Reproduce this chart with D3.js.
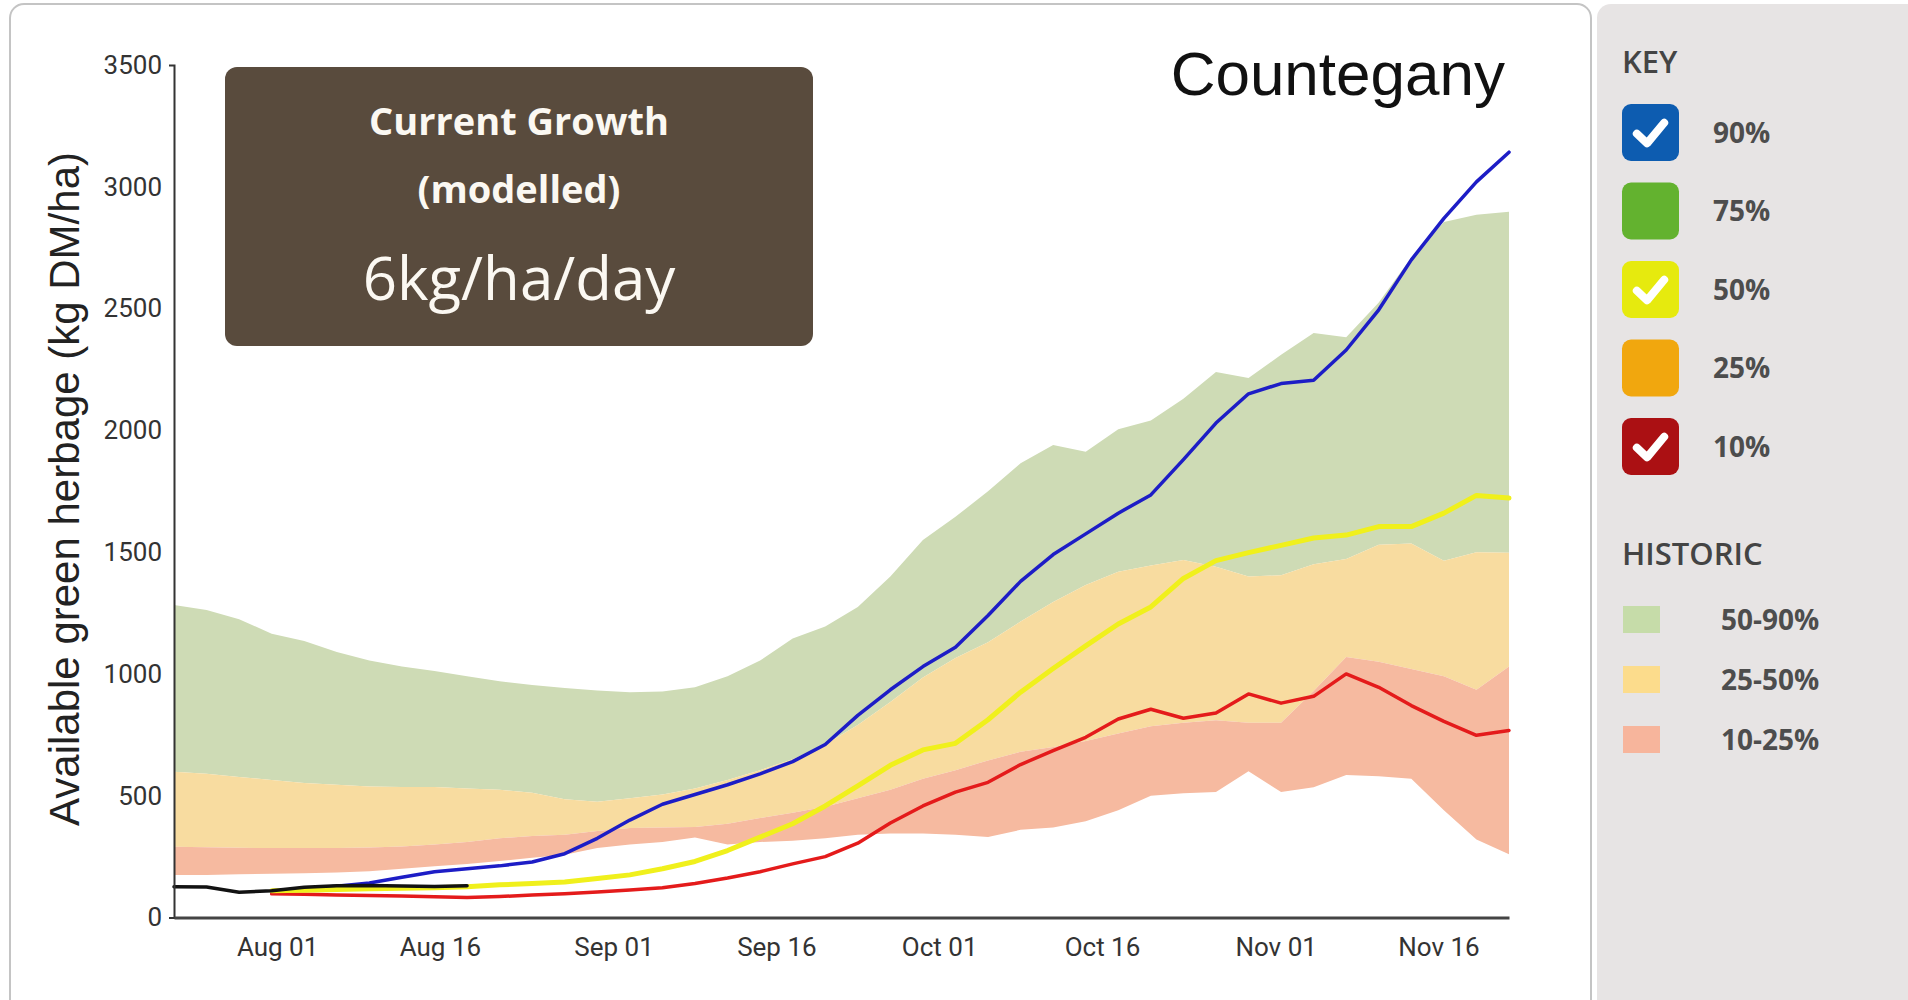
<!DOCTYPE html>
<html>
<head>
<meta charset="utf-8">
<script src="https://cdn.jsdelivr.net/npm/d3@7"></script>
<style>
  body { margin: 0; background: #ffffff; }
  svg { display: block; }
</style>
</head>
<body>
<svg id="chart" width="1908" height="1000"></svg>
<script>
/*
* Pasture growth chart for Countegany: historic percentile bands plus modelled scenarios
*/

// dates of the data points (every third day)
var dates = ["2019-07-22", "2019-07-25", "2019-07-28", "2019-07-31", "2019-08-03", "2019-08-06",
    "2019-08-09", "2019-08-12", "2019-08-15", "2019-08-18", "2019-08-21", "2019-08-24",
    "2019-08-27", "2019-08-30", "2019-09-02", "2019-09-05", "2019-09-08", "2019-09-11",
    "2019-09-14", "2019-09-17", "2019-09-20", "2019-09-23", "2019-09-26", "2019-09-29",
    "2019-10-02", "2019-10-05", "2019-10-08", "2019-10-11", "2019-10-14", "2019-10-17",
    "2019-10-20", "2019-10-23", "2019-10-26", "2019-10-29", "2019-11-01", "2019-11-04",
    "2019-11-07", "2019-11-10", "2019-11-13", "2019-11-16", "2019-11-19", "2019-11-22"];

// historic percentiles (kg DM/ha)
var hist90 = [1283, 1262, 1225, 1165, 1135, 1090, 1055, 1030, 1012, 990, 970, 955, 942, 932,
    925, 928, 945, 990, 1055, 1145, 1195, 1275, 1400, 1550, 1645, 1750, 1865, 1940, 1912,
    2005, 2040, 2130, 2240, 2215, 2310, 2400, 2382, 2525, 2710, 2855, 2885, 2897];
var hist50 = [598, 590, 577, 565, 552, 545, 538, 536, 536, 530, 525, 512, 485, 475,
    490, 505, 530, 565, 605, 650, 710, 790, 885, 985, 1065, 1130, 1215, 1295, 1365,
    1420, 1445, 1468, 1440, 1400, 1405, 1450, 1472, 1530, 1535, 1465, 1500, 1497];
var hist25 = [290, 288, 286, 285, 285, 285, 287, 292, 300, 310, 325, 335, 340, 355,
    367, 370, 372, 385, 408, 430, 455, 490, 525, 570, 605, 645, 680, 700, 725,
    755, 785, 800, 810, 800, 800, 930, 1070, 1050, 1020, 990, 935, 1030];
var hist10 = [175, 175, 178, 180, 182, 185, 190, 200, 210, 220, 232, 245, 258, 285,
    300, 310, 328, 300, 310, 315, 325, 340, 345, 345, 340, 330, 360, 370, 395,
    440, 500, 510, 515, 600, 515, 535, 585, 580, 570, 440, 320, 260];

// modelled scenarios, start on Aug 01 (null before)
var model90 = [null, null, null, 108, 118, 128, 142, 165, 188, 200, 212, 228, 262, 325,
    400, 465, 505, 545, 590, 640, 710, 830, 935, 1030, 1110, 1240, 1380, 1490, 1575,
    1660, 1735, 1880, 2030, 2150, 2192, 2206, 2330, 2495, 2700, 2870, 3020, 3142];
var model50 = [null, null, null, 110, 112, 115, 118, 120, 122, 126, 134, 140, 146, 160,
    175, 200, 230, 275, 330, 385, 458, 540, 625, 688, 715, 812, 925, 1022, 1115,
    1205, 1275, 1392, 1465, 1498, 1528, 1558, 1570, 1605, 1605, 1660, 1733, 1722];
var model10 = [null, null, null, 97, 95, 92, 90, 88, 85, 82, 86, 92, 98, 105,
    113, 122, 140, 162, 188, 220, 250, 305, 388, 458, 515, 555, 628, 685, 740,
    815, 855, 818, 840, 918, 880, 908, 1000, 945, 870, 805, 748, 768];

// measured herbage so far
var actual = [126, 125, 104, 110, 124, 130, 131, 129, 127, 130];

// axis ticks
var yTicks = [0, 500, 1000, 1500, 2000, 2500, 3000, 3500];
var xTickDates = ["2019-08-01", "2019-08-16", "2019-09-01", "2019-09-16",
    "2019-10-01", "2019-10-16", "2019-11-01", "2019-11-16"];

// key on the right
var keyLabels = ["90%", "75%", "50%", "25%", "10%"];
var keyColors = ["#0d5cb0", "#63b22f", "#e6ea0e", "#f1a70e", "#ab1013"];
var keyChecked = [true, false, true, false, true];
var histLabels = ["50-90%", "25-50%", "10-25%"];
var histColors = ["#c6dca9", "#fcdc8c", "#f7b59c"];

var svg = d3.select("#chart");
var parseDate = d3.timeParse("%Y-%m-%d");

// data points sit at midday
function midday(s) {
    return d3.timeHour.offset(parseDate(s), 12);
}

var rows = dates.map(function(s, i) {
    return {
        date: midday(s),
        h90: hist90[i], h50: hist50[i], h25: hist25[i], h10: hist10[i],
        m90: model90[i], m50: model50[i], m10: model10[i],
        act: i < actual.length ? actual[i] : null
    };
});

// outer panels
svg.append("rect")
    .attr("x", 10).attr("y", 4)
    .attr("width", 1581).attr("height", 1020)
    .attr("rx", 14)
    .attr("fill", "#ffffff")
    .attr("stroke", "#c4c4c4")
    .attr("stroke-width", 2);

svg.append("rect")
    .attr("x", 1597).attr("y", 4)
    .attr("width", 330).attr("height", 1020)
    .attr("rx", 14)
    .attr("fill", "#e7e4e4");

// scales
var x = d3.scaleTime()
    .domain([rows[0].date, rows[rows.length - 1].date])
    .range([174, 1509]);
var y = d3.scaleLinear()
    .domain([0, 3500])
    .range([917.5, 65]);

// historic bands
function band(lo, hi, color) {
    var area = d3.area()
        .x(function(d) { return x(d.date); })
        .y0(function(d) { return y(d[lo]); })
        .y1(function(d) { return y(d[hi]); });
    svg.append("path")
        .datum(rows)
        .attr("d", area)
        .attr("fill", color);
}
band("h50", "h90", "#cedbb5");
band("h25", "h50", "#f8dca0");
band("h10", "h25", "#f6baa0");

// modelled lines and the measured one
function drawLine(field, color, width) {
    var line = d3.line()
        .defined(function(d) { return d[field] !== null; })
        .x(function(d) { return x(d.date); })
        .y(function(d) { return y(d[field]); });
    svg.append("path")
        .datum(rows)
        .attr("d", line)
        .attr("fill", "none")
        .attr("stroke", color)
        .attr("stroke-width", width)
        .attr("stroke-linejoin", "round")
        .attr("stroke-linecap", "round");
}
drawLine("m90", "#1d1dc6", 3.5);
drawLine("m10", "#e41b1b", 3.5);
drawLine("m50", "#f0f01c", 5);
drawLine("act", "#121212", 3.5);

// axes
var yAxis = svg.append("g")
    .attr("transform", "translate(174,0)")
    .call(d3.axisLeft(y)
        .tickValues(yTicks)
        .tickFormat(d3.format("d"))
        .tickSizeInner(0).tickSizeOuter(5).tickPadding(12));
yAxis.select(".domain").attr("stroke", "#333").attr("stroke-width", 2);
yAxis.selectAll("text")
    .attr("fill", "#333")
    .style("font-family", "Roboto, sans-serif")
    .style("font-size", "26px");

var xAxis = svg.append("g")
    .attr("transform", "translate(0,917.5)")
    .call(d3.axisBottom(x)
        .tickValues(xTickDates.map(parseDate))
        .tickFormat(d3.timeFormat("%b %d"))
        .tickSize(0).tickPadding(20));
xAxis.select(".domain").attr("stroke", "#444").attr("stroke-width", 3);
xAxis.selectAll("text")
    .attr("fill", "#333")
    .style("font-family", "Roboto, sans-serif")
    .style("font-size", "26px");

// axis title
svg.append("text")
    .attr("transform", "translate(79,489) rotate(-90)")
    .attr("text-anchor", "middle")
    .attr("fill", "#222")
    .style("font-family", "'Liberation Sans', Arial, sans-serif")
    .style("font-size", "42px")
    .text("Available green herbage (kg DM/ha)");

// station name
svg.append("text")
    .attr("x", 1505).attr("y", 95)
    .attr("text-anchor", "end")
    .attr("fill", "#111")
    .style("font-family", "'Liberation Sans', Arial, sans-serif")
    .style("font-size", "62px")
    .text("Countegany");

// current growth box
svg.append("rect")
    .attr("x", 225).attr("y", 67)
    .attr("width", 588).attr("height", 279)
    .attr("rx", 12)
    .attr("fill", "#594b3d");

var boxText = svg.append("g")
    .attr("fill", "#fbf8f2")
    .attr("text-anchor", "middle")
    .style("font-family", "'Open Sans', sans-serif");
boxText.append("text")
    .attr("x", 519).attr("y", 135)
    .style("font-size", "38px").style("font-weight", "bold")
    .text("Current Growth");
boxText.append("text")
    .attr("x", 519).attr("y", 203)
    .style("font-size", "38px").style("font-weight", "bold")
    .text("(modelled)");
boxText.append("text")
    .attr("x", 519).attr("y", 300)
    .style("font-size", "60px")
    .text("6kg/ha/day");

// key
var legend = svg.append("g")
    .style("font-family", "'Open Sans', sans-serif");

legend.append("text")
    .attr("x", 1622).attr("y", 73)
    .attr("fill", "#444")
    .style("font-size", "31px").style("font-weight", "600")
    .text("KEY");

keyLabels.forEach(function(label, i) {
    var top = 104 + i * 78.5;
    var s = 57;
    legend.append("rect")
        .attr("x", 1622).attr("y", top)
        .attr("width", s).attr("height", s)
        .attr("rx", 9)
        .attr("fill", keyColors[i]);
    if (keyChecked[i]) {
        legend.append("polyline")
            .attr("points", [
                [1622 + 0.26 * s, top + 0.52 * s],
                [1622 + 0.44 * s, top + 0.69 * s],
                [1622 + 0.74 * s, top + 0.33 * s]
            ].join(" "))
            .attr("fill", "none")
            .attr("stroke", "#ffffff")
            .attr("stroke-width", 8)
            .attr("stroke-linecap", "round")
            .attr("stroke-linejoin", "round");
    }
    legend.append("text")
        .attr("x", 1713).attr("y", top + s / 2 + 10)
        .attr("fill", "#4d4d4d")
        .style("font-size", "28px").style("font-weight", "bold")
        .text(label);
});

legend.append("text")
    .attr("x", 1622).attr("y", 565)
    .attr("fill", "#444")
    .style("font-size", "31px").style("font-weight", "600")
    .text("HISTORIC");

histLabels.forEach(function(label, i) {
    var cy = 619 + i * 60;
    legend.append("rect")
        .attr("x", 1623).attr("y", cy - 13)
        .attr("width", 37).attr("height", 27)
        .attr("fill", histColors[i]);
    legend.append("text")
        .attr("x", 1721).attr("y", cy + 11)
        .attr("fill", "#4d4d4d")
        .style("font-size", "28px").style("font-weight", "bold")
        .text(label);
});
</script>
</body>
</html>
